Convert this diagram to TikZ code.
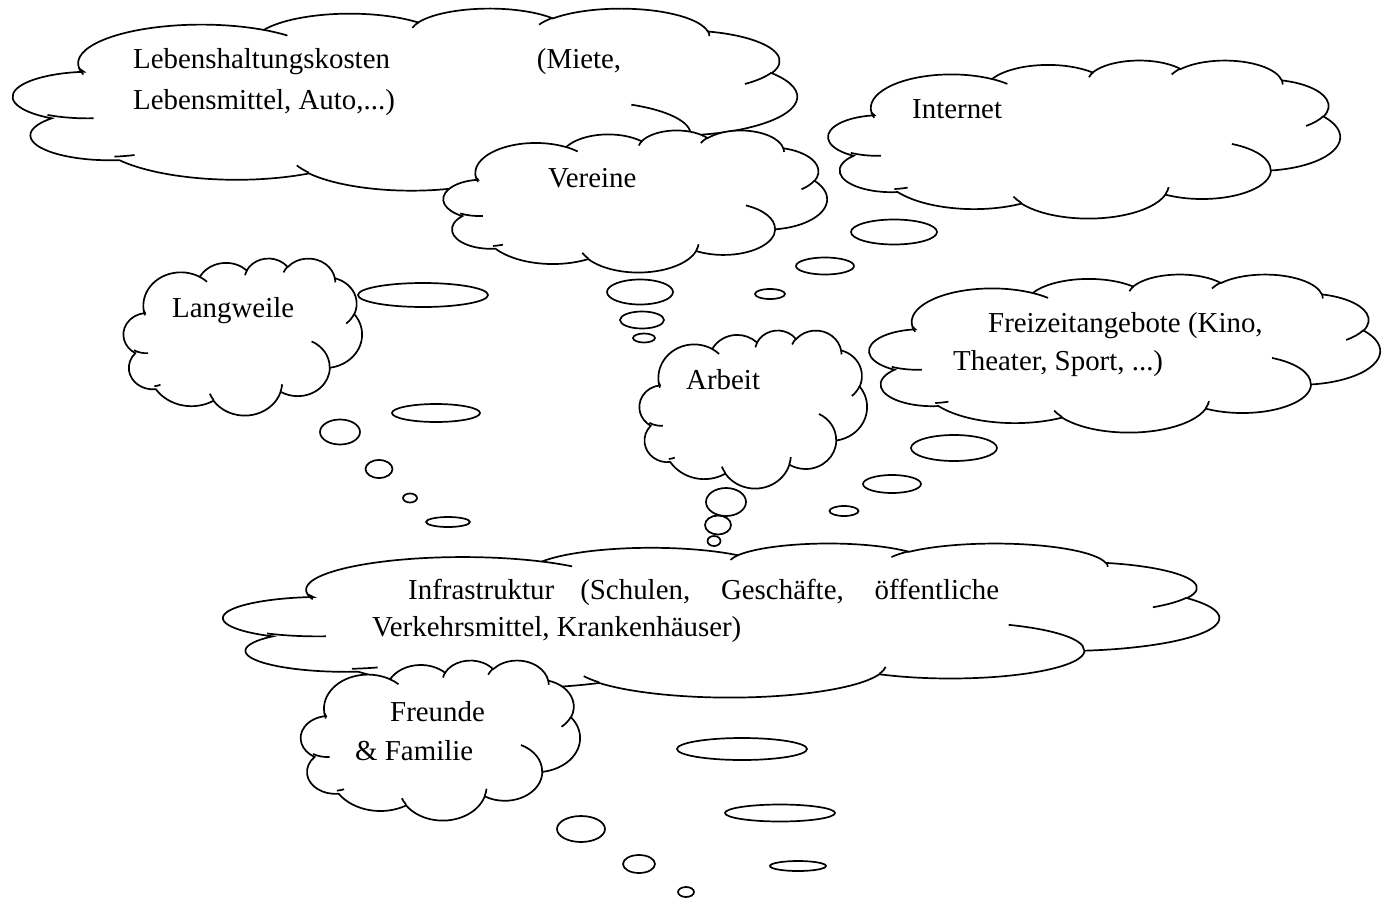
\documentclass[tikz,border=0pt]{standalone}
\usepackage{fontspec}
\setmainfont{Liberation Serif}
\usetikzlibrary{positioning}

\tikzset{
  cloudline/.style={line width=1.7pt,black},
  txt/.style={inner sep=0pt,anchor=base west,font=\fontsize{28.9}{40}\selectfont},
  thought/.pic={
    \draw[cloudline,fill=white] (9.028,33.264)
      arc[start angle=172.26,end angle=300.36,x radius=15.632,y radius=21.273]
      arc[start angle=-152.02,end angle=-45.44,x radius=12.345,y radius=16.822]
      arc[start angle=-153.50,end angle=-37.33,x radius=10.104,y radius=13.762]
      arc[start angle=-139.70,end angle=-10.21,x radius=11.243,y radius=15.266]
      arc[start angle=-74.77,end angle=23.21,x radius=12.345,y radius=16.836]
      arc[start angle=-37.53,end angle=81.86,x radius=15.683,y radius=21.343]
      arc[start angle=0.46,end angle=121.98,x radius=13.391,y radius=18.211]
      arc[start angle=16.85,end angle=146.23,x radius=15.630,y radius=21.331]
      arc[start angle=58.98,end angle=146.15,x radius=17.870,y radius=24.405]
      arc[start angle=83.31,end angle=223.10,x radius=10.093,y radius=13.699]
      arc[start angle=120.36,end angle=264.11,x radius=10.058,y radius=13.762]
      -- cycle;
    % inner folds
    \draw[cloudline]
      (10.864,60.595) arc[start angle=85.55,end angle=120.36,x radius=10.058,y radius=13.762]
      (16.037,80.785) arc[start angle=68.24,end angle=83.31,x radius=10.093,y radius=13.699]
      (38.144,90.486) arc[start angle=146.23,end angle=158.47,x radius=15.630,y radius=21.331]
      (66.729,80.442) arc[start angle=4.74,end angle=16.85,x radius=15.630,y radius=21.331]
      (79.002,53.134) arc[start angle=-64.03,end angle=0.46,x radius=13.391,y radius=18.211]
      (96.755,35.542) arc[start angle=23.21,end angle=49.65,x radius=12.345,y radius=16.836]
      (88.713,12.560) arc[start angle=-10.21,end angle=0.82,x radius=11.243,y radius=15.266]
      (67.310,9.148) arc[start angle=-156.29,end angle=-139.70,x radius=11.243,y radius=15.266]
      (51.252,10.926) arc[start angle=-167.73,end angle=-153.50,x radius=10.104,y radius=13.762]
      (32.407,12.019) arc[start angle=-59.64,end angle=-45.73,x radius=15.632,y radius=21.273]
      (9.553,36.549) arc[start angle=163.20,end angle=172.26,x radius=15.632,y radius=21.273];
  }
}

\begin{document}
\begin{tikzpicture}[x=1pt,y=-1pt]
	\useasboundingbox (0,0) rectangle (1384,899);
	\fill[white] (0,0) rectangle (1384,899);

	% clouds
	\pic[xscale=7.89,yscale=1.82] (kosten) at (8,8) {thought};
	\pic[xscale=3.86,yscale=1.42] (vereine) at (441,130) {thought};
	\pic[xscale=5.15,yscale=1.58] (internet) at (825,60) {thought};
	\pic[xscale=2.40,yscale=1.57] (langweile) at (122,258) {thought};
	\pic[xscale=2.29,yscale=1.58] (arbeit) at (638,330) {thought};
	\pic[xscale=5.14,yscale=1.58] (freizeit) at (866,274) {thought};
	\pic[xscale=10.02,yscale=1.54] (infra) at (217,543) {thought};
	\pic[xscale=2.81,yscale=1.60] (freunde) at (299,660) {thought};

	% bubbles
	\foreach \cx/\cy/\rx/\ry in
	{423/295/65/12, 436/413/44/9, 340/432/20/12.5, 379/469/13.5/9, 410/498/7/4.5, 448/522/22/5,
	 894/232/43/12.5, 825/266/29/8.5, 770/294/15/5, 640/292/33/12.5, 642/320/22/8.5, 644/338/11/4.5,
	 954/448/43/13, 892/484/29/9, 844/511/14.5/5, 726/502/20/14, 718/525/13/9.5, 714/541/6.5/5,
	 742/749/65/11, 780/813/55/8.5, 798/866/28/5, 581/829/24/13, 639/864/16/9, 686/892/8/5}
	\draw[cloudline] (\cx,\cy) ellipse[x radius=\rx,y radius=\ry];

	% texts
	\node[txt] (kosten1) at (133,69) {\makebox[488pt][s]{Lebenshaltungskosten (Miete,}};
	\node[txt] (kosten2) at (133,109) {Lebensmittel, Auto,...)};
	\node[txt] (vereine1) at (548,187) {Vereine};
	\node[txt] (internet1) at (912,118) {Internet};
	\node[txt] (langweile1) at (172,317) {Langweile};
	\node[txt] (arbeit1) at (686,389) {Arbeit};
	\node[txt] (freizeit1) at (988,332) {Freizeitangebote (Kino,};
	\node[txt] (freizeit2) at (953,370) {Theater, Sport, ...)};
	\node[txt] (infra1) at (408,599) {\makebox[591pt][s]{Infrastruktur (Schulen, Geschäfte, öffentliche}};
	\node[txt] (infra2) at (372,636) {Verkehrsmittel, Krankenhäuser)};
	\node[txt] (freunde1) at (390,721) {Freunde};
	\node[txt] (freunde2) at (355,760) {\& Familie};
\end{tikzpicture}
\end{document}
